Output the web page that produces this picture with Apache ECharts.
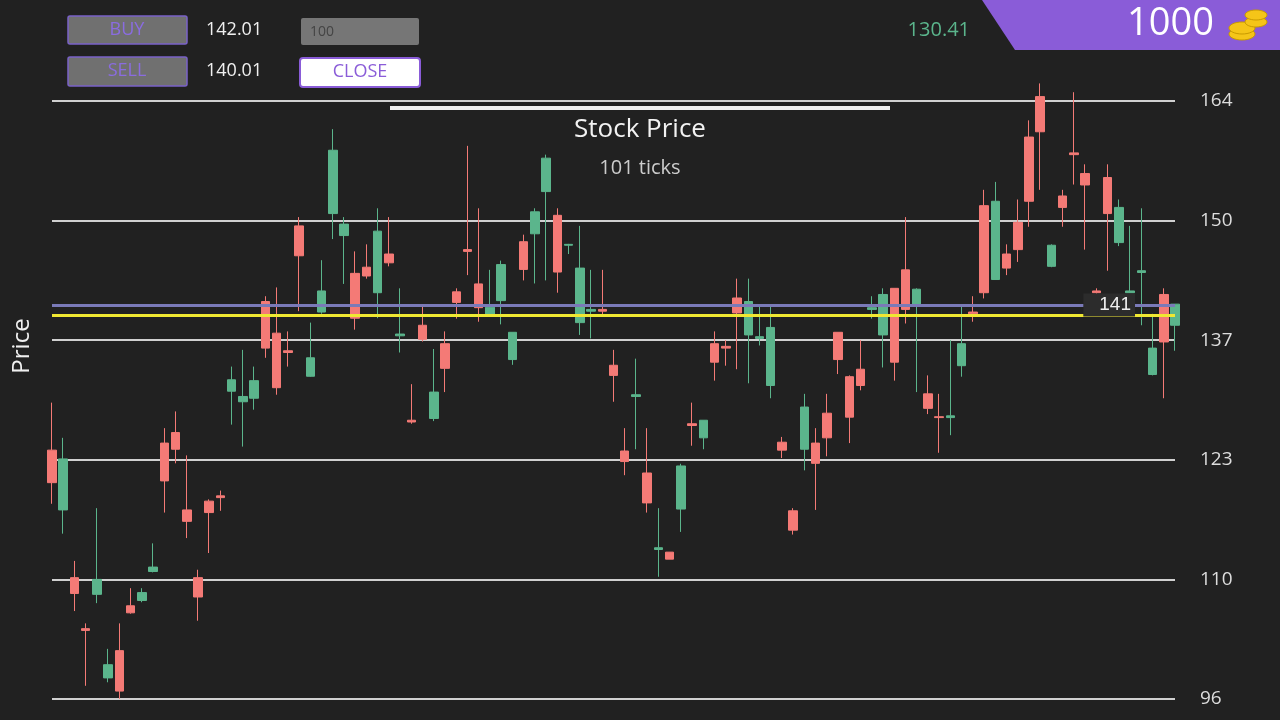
<!DOCTYPE html>
<html>
<head>
<meta charset="utf-8">
<script src="https://cdn.jsdelivr.net/npm/echarts@6/dist/echarts.min.js"></script>
<style>
  html, body { margin: 0; padding: 0; background: #212121; }
  #chart { width: 1280px; height: 720px; }
</style>
</head>
<body>
<div id="chart"></div>
<script>
// candle values: open, close, low, high (one entry per tick)
const opens  = [124.3,117.5,109.8,104.0,107.9,98.4,101.5,106.6,107.2,110.5,125.1,126.3,117.5,109.8,118.5,119.1,131.0,129.8,130.2,141.2,137.6,135.6,149.8,132.7,140.0,151.2,148.7,144.4,145.1,142.2,146.6,137.3,127.7,138.5,127.9,136.4,142.3,147.1,143.2,139.7,141.3,134.6,148.0,148.9,153.7,151.0,147.6,138.8,140.1,140.3,133.95,124.2,130.4,121.7,113.0,112.7,117.6,127.3,125.7,136.4,136.1,141.6,137.4,137.0,131.65,125.2,117.4,124.4,125.1,128.5,137.7,132.65,133.5,140.3,137.4,142.7,144.8,140.9,130.7,128.1,128.0,133.9,140.0,152.1,143.7,146.6,150.2,159.9,164.5,145.2,153.2,158.1,155.75,142.4,155.3,147.9,142.2,144.5,132.9,142.0,138.5];
const closes = [120.6,123.3,108.0,103.8,109.6,99.9,96.9,105.8,108.1,111.0,120.8,124.4,116.2,107.6,117.2,118.9,132.3,130.4,132.2,135.9,131.4,135.4,146.4,134.8,142.4,158.4,150.0,139.3,144.1,149.2,145.6,137.5,127.5,136.9,130.9,133.6,141.1,146.9,140.5,140.55,145.4,137.7,144.85,151.4,157.5,144.55,147.7,145.0,140.3,140.1,132.8,123.0,130.6,118.3,113.2,111.9,122.5,127.1,127.7,134.3,135.9,139.9,141.2,137.2,138.25,124.3,115.2,129.2,122.8,125.7,134.6,128.05,131.65,140.5,142.0,134.3,140.3,142.6,129.05,128.0,128.2,136.4,139.8,142.2,152.6,145.0,147.1,152.6,160.5,147.6,151.9,157.9,154.45,142.2,151.2,151.9,142.4,144.7,135.9,136.6,140.9];
const lows   = [118.2,114.8,106.0,97.5,106.9,97.9,96.0,105.7,107.0,110.4,117.2,122.8,114.3,104.9,112.6,117.4,127.2,124.7,128.9,134.8,130.6,133.8,140.1,132.65,139.8,148.3,143.2,138.0,143.8,139.3,145.2,135.4,127.3,136.65,127.6,130.9,139.25,144.2,138.9,139.7,138.6,134.0,143.6,143.25,143.6,142.2,146.6,137.4,137.0,139.7,129.8,121.45,124.4,117.2,109.9,111.9,115.0,124.8,124.4,132.2,133.9,133.5,131.9,136.2,130.2,123.4,114.7,122.0,117.5,123.6,132.95,125.1,131.1,139.25,133.7,132.2,138.7,130.9,128.4,124.0,126.0,132.65,138.9,141.55,143.7,144.2,145.7,149.7,153.9,145.1,149.7,154.5,147.1,142.1,144.7,147.5,142.3,138.5,132.8,130.2,135.6];
const highs  = [129.7,125.7,111.7,104.6,117.7,101.7,104.6,108.6,108.6,113.7,126.8,128.7,123.7,110.7,118.7,119.7,133.8,135.7,133.8,141.8,142.8,137.8,150.8,138.8,145.9,160.8,150.8,146.9,147.7,151.8,150.8,142.7,131.8,140.7,135.8,137.8,142.7,158.9,151.8,144.8,145.85,137.7,148.8,151.8,157.9,151.8,147.75,149.8,144.8,144.8,135.7,126.8,134.7,126.8,117.7,112.7,122.75,129.7,127.7,137.8,136.8,143.8,143.8,140.7,140.7,125.8,117.7,130.7,126.8,130.7,137.7,132.8,136.8,141.8,142.7,142.7,150.8,142.7,132.8,130.7,136.8,140.7,141.8,153.9,154.8,147.7,152.8,161.8,166.0,147.7,153.9,165.0,156.8,142.7,156.8,152.8,149.8,151.8,139.8,142.7,140.9];
const ticks = opens.map((_, i) => String(i));
const buyLevel = 140.8;
const sellLevel = 139.6;

const chart = echarts.init(document.getElementById('chart'));

const option = {
    backgroundColor: '#212121',
    animation: false,
    title: {
        text: 'Stock Price',
        subtext: '101 ticks',
        left: 'center',
        top: 112,
        itemGap: 15,
        textStyle: { color: '#f2f2f2', fontSize: 26, fontWeight: 'normal', fontFamily: 'Open Sans' },
        subtextStyle: { color: '#cccccc', fontSize: 20, fontFamily: 'Open Sans' }
    },
    grid: { left: 52, right: 105, top: 101, bottom: 21 },
    xAxis: {
        type: 'category',
        data: ticks,
        boundaryGap: false,
        axisLine: { show: false },
        axisTick: { show: false },
        axisLabel: { show: false },
        splitLine: { show: false }
    },
    yAxis: {
        type: 'value',
        position: 'right',
        min: 96,
        max: 164,
        interval: 13.6,
        axisLine: { show: false },
        axisTick: { show: false },
        axisLabel: {
            color: '#dddddd', fontSize: 19, margin: 25, fontFamily: 'Open Sans',
            formatter: v => Math.round(v)
        },
        splitLine: { lineStyle: { color: '#d0d0d0', width: 2 } }
    },
    series: [{
        type: 'candlestick',
        clip: true,
        data: opens.map((o, i) => [o, closes[i], lows[i], highs[i]]),
        barWidth: 9,
        itemStyle: {
            color: '#5bb58c', color0: '#f47a76',
            borderColor: '#5bb58c', borderColor0: '#f47a76', borderWidth: 1
        },
        markLine: {
            symbol: 'none',
            silent: true,
            data: [
                {
                    yAxis: buyLevel,
                    lineStyle: { color: '#7a7ab8', width: 3, type: 'solid' },
                    label: {
                        position: 'insideEnd', distance: 40, formatter: '141',
                        color: '#eeeeee', fontSize: 19, backgroundColor: '#2c2c2c', padding: [2, 4, 2, 16]
                    }
                },
                {
                    yAxis: sellLevel,
                    lineStyle: { color: '#f0e832', width: 3, type: 'solid' },
                    label: { show: false }
                }
            ]
        }
    }],
    graphic: [
        { type: 'rect', shape: { x: 390, y: 106, width: 500, height: 4 }, style: { fill: '#f0f0f0' } },
        { type: 'text', x: 22, y: 346, rotation: Math.PI / 2, style: { text: 'Price', fill: '#f0f0f0', fontSize: 24, fontFamily: 'Open Sans', align: 'center', verticalAlign: 'middle' } },
        // header controls
        { type: 'rect', shape: { x: 68, y: 16, width: 119, height: 28, r: 2 }, style: { fill: '#707070', stroke: '#7a62c8', lineWidth: 1.5 } },
        { type: 'text', x: 127, y: 30, style: { text: 'BUY', fill: '#8a6ce0', fontSize: 18, fontFamily: 'Open Sans', align: 'center', verticalAlign: 'middle' } },
        { type: 'text', x: 206, y: 30, style: { text: '142.01', fill: '#f0f0f0', fontSize: 18, fontFamily: 'Open Sans', verticalAlign: 'middle' } },
        { type: 'rect', shape: { x: 301, y: 18, width: 118, height: 27, r: 2 }, style: { fill: '#767676' } },
        { type: 'text', x: 310, y: 32, style: { text: '100', fill: '#444444', fontSize: 14, fontFamily: 'Open Sans', verticalAlign: 'middle' } },
        { type: 'rect', shape: { x: 68, y: 57, width: 119, height: 29, r: 2 }, style: { fill: '#707070', stroke: '#7a62c8', lineWidth: 1.5 } },
        { type: 'text', x: 127, y: 71, style: { text: 'SELL', fill: '#8a6ce0', fontSize: 18, fontFamily: 'Open Sans', align: 'center', verticalAlign: 'middle' } },
        { type: 'text', x: 206, y: 71, style: { text: '140.01', fill: '#f0f0f0', fontSize: 18, fontFamily: 'Open Sans', verticalAlign: 'middle' } },
        { type: 'rect', shape: { x: 300, y: 58, width: 120, height: 29, r: 3 }, style: { fill: '#ffffff', stroke: '#8a5cd8', lineWidth: 2 } },
        { type: 'text', x: 360, y: 72, style: { text: 'CLOSE', fill: '#8a5cd8', fontSize: 18, fontFamily: 'Open Sans', align: 'center', verticalAlign: 'middle' } },
        { type: 'text', x: 970, y: 30, style: { text: '130.41', fill: '#5bb58c', fontSize: 20, fontFamily: 'Open Sans', align: 'right', verticalAlign: 'middle' } },
        { type: 'polygon', shape: { points: [[982, 0], [1280, 0], [1280, 50], [1015, 50]] }, style: { fill: '#8a5cd8' } },
        { type: 'text', x: 1214, y: 24, style: { text: '1000', fill: '#ffffff', fontSize: 38, fontFamily: 'Open Sans', align: 'right', verticalAlign: 'middle' } },
        { type: 'ellipse', shape: { cx: 1242, cy: 34, rx: 13, ry: 6 }, style: { fill: '#f5c518', stroke: '#c99a00', lineWidth: 1 } },
        { type: 'ellipse', shape: { cx: 1242, cy: 28, rx: 13, ry: 6 }, style: { fill: '#f5c518', stroke: '#c99a00', lineWidth: 1 } },
        { type: 'ellipse', shape: { cx: 1256, cy: 22, rx: 11, ry: 5 }, style: { fill: '#f5c518', stroke: '#c99a00', lineWidth: 1 } },
        { type: 'ellipse', shape: { cx: 1256, cy: 15, rx: 11, ry: 5 }, style: { fill: '#f5c518', stroke: '#c99a00', lineWidth: 1 } }
    ]
};

option && chart.setOption(option);
</script>
</body>
</html>
